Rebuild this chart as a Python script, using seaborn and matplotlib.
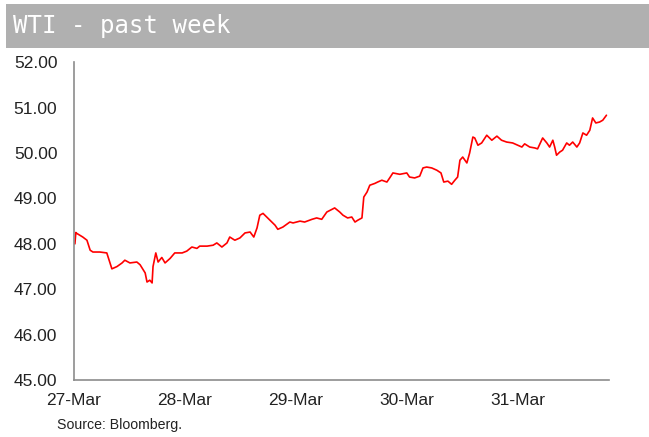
import matplotlib
matplotlib.use("Agg")
import matplotlib.pyplot as plt
import matplotlib.dates as mdates
import matplotlib.patches as mpatches
import seaborn as sns
import pandas as pd

# WTI price, hours since 27-Mar 00:00
hours = [0.2, 0.4, 0.6, 1.9, 2.8, 3.5, 4.1, 5.6, 7.1, 7.8, 8.2, 9.3, 10.4, 11.0,
         12.1, 13.6, 14.3, 15.4, 15.8, 16.4, 16.9, 17.1, 17.7, 18.2, 19.0, 19.7,
         20.8, 21.8, 23.4, 24.4, 25.5, 26.6, 27.2, 28.8, 30.1, 30.9, 32.0, 33.1,
         33.7, 34.8, 35.9, 37.0, 38.1, 38.9, 39.6, 40.2, 40.9, 41.7, 42.8, 43.5,
         44.1, 45.2, 46.7, 47.4, 48.9, 49.9, 51.5, 52.5, 53.6, 54.7, 55.8, 56.4,
         57.5, 58.2, 59.2, 60.1, 60.8, 61.4, 62.3, 62.7, 63.4, 64.0, 65.1, 65.7,
         66.6, 67.7, 68.3, 69.0, 70.5, 72.0, 72.6, 73.7, 74.8, 75.5, 76.3, 77.4,
         78.5, 79.4, 80.0, 80.9, 81.7, 82.4, 83.0, 83.5, 84.1, 85.0, 85.6, 86.3,
         86.7, 87.4, 88.2, 88.9, 89.3, 90.4, 91.5, 92.5, 93.6, 94.9, 96.0, 96.9,
         97.5, 98.6, 99.7, 100.3, 101.4, 102.3, 102.9, 103.6, 104.0, 104.4, 105.1,
         105.7, 106.6, 107.2, 107.9, 108.8, 109.4, 110.1, 110.9, 111.6, 112.2,
         112.9, 113.7, 114.4, 115.2]
price = [48.00, 48.25, 48.23, 48.15, 48.08, 47.86, 47.82, 47.82, 47.80, 47.58,
         47.45, 47.50, 47.58, 47.64, 47.58, 47.60, 47.54, 47.36, 47.16, 47.20,
         47.14, 47.50, 47.80, 47.60, 47.70, 47.58, 47.68, 47.80, 47.80, 47.84,
         47.93, 47.90, 47.95, 47.95, 47.97, 48.02, 47.93, 48.02, 48.15, 48.08,
         48.13, 48.24, 48.26, 48.15, 48.35, 48.63, 48.67, 48.59, 48.48, 48.41,
         48.32, 48.37, 48.48, 48.46, 48.50, 48.48, 48.54, 48.57, 48.54, 48.70,
         48.76, 48.79, 48.70, 48.63, 48.57, 48.59, 48.48, 48.52, 48.57, 49.03,
         49.14, 49.29, 49.33, 49.36, 49.40, 49.36, 49.45, 49.56, 49.53, 49.56,
         49.47, 49.45, 49.49, 49.67, 49.69, 49.67, 49.62, 49.56, 49.36, 49.38,
         49.31, 49.40, 49.47, 49.84, 49.91, 49.78, 50.00, 50.35, 50.33, 50.17,
         50.22, 50.33, 50.39, 50.28, 50.37, 50.28, 50.24, 50.22, 50.17, 50.13,
         50.20, 50.13, 50.11, 50.09, 50.33, 50.22, 50.13, 50.28, 50.13, 49.95,
         50.02, 50.06, 50.22, 50.17, 50.24, 50.13, 50.22, 50.44, 50.39, 50.50,
         50.77, 50.66, 50.68, 50.72, 50.83]

start = pd.Timestamp("2017-03-27")
df = pd.DataFrame({
    "time": start + pd.to_timedelta(hours, unit="h"),
    "price": price,
})

sns.set_style("white")
plt.rcParams["font.family"] = ["Liberation Sans", "DejaVu Sans"]

fig = plt.figure(figsize=(6.49, 4.37), dpi=100)
ax = fig.add_axes([0.114, 0.130, 0.824, 0.728])

sns.lineplot(data=df, x="time", y="price", color="#ff0000", linewidth=1.2, ax=ax)

ax.set_xlim(start, start + pd.Timedelta(hours=115.7))
ax.set_ylim(45, 52)
ax.set_yticks([45, 46, 47, 48, 49, 50, 51, 52])
ax.yaxis.set_major_formatter(plt.FormatStrFormatter("%.2f"))
ax.xaxis.set_major_locator(mdates.DayLocator())
ax.xaxis.set_major_formatter(mdates.DateFormatter("%d-%b"))
ax.xaxis.set_minor_locator(mdates.HourLocator(byhour=[12]))
ax.set_xlabel("")
ax.set_ylabel("")

for side in ["top", "right"]:
    ax.spines[side].set_visible(False)
for side in ["left", "bottom"]:
    ax.spines[side].set_color("#8c8c8c")
    ax.spines[side].set_linewidth(1.2)

ax.tick_params(axis="both", which="both", direction="out", color="#8c8c8c",
               width=1.2, length=5, labelsize=12.5, labelcolor="#222222")
ax.tick_params(axis="y", pad=7)
ax.tick_params(axis="x", pad=4)

# grey title band
fig.patches.append(mpatches.Rectangle((0.009, 0.890), 0.991, 0.101,
                                      transform=fig.transFigure,
                                      facecolor="#b0b0b0", edgecolor="none"))
fig.text(0.020, 0.940, "WTI - past week", color="white", fontsize=17.3,
         family="DejaVu Sans Mono", va="center", ha="left")

fig.text(0.088, 0.027, "Source: Bloomberg.", fontsize=10.2, color="#222222",
         va="center", ha="left")

fig.savefig("out.png", dpi=100)
